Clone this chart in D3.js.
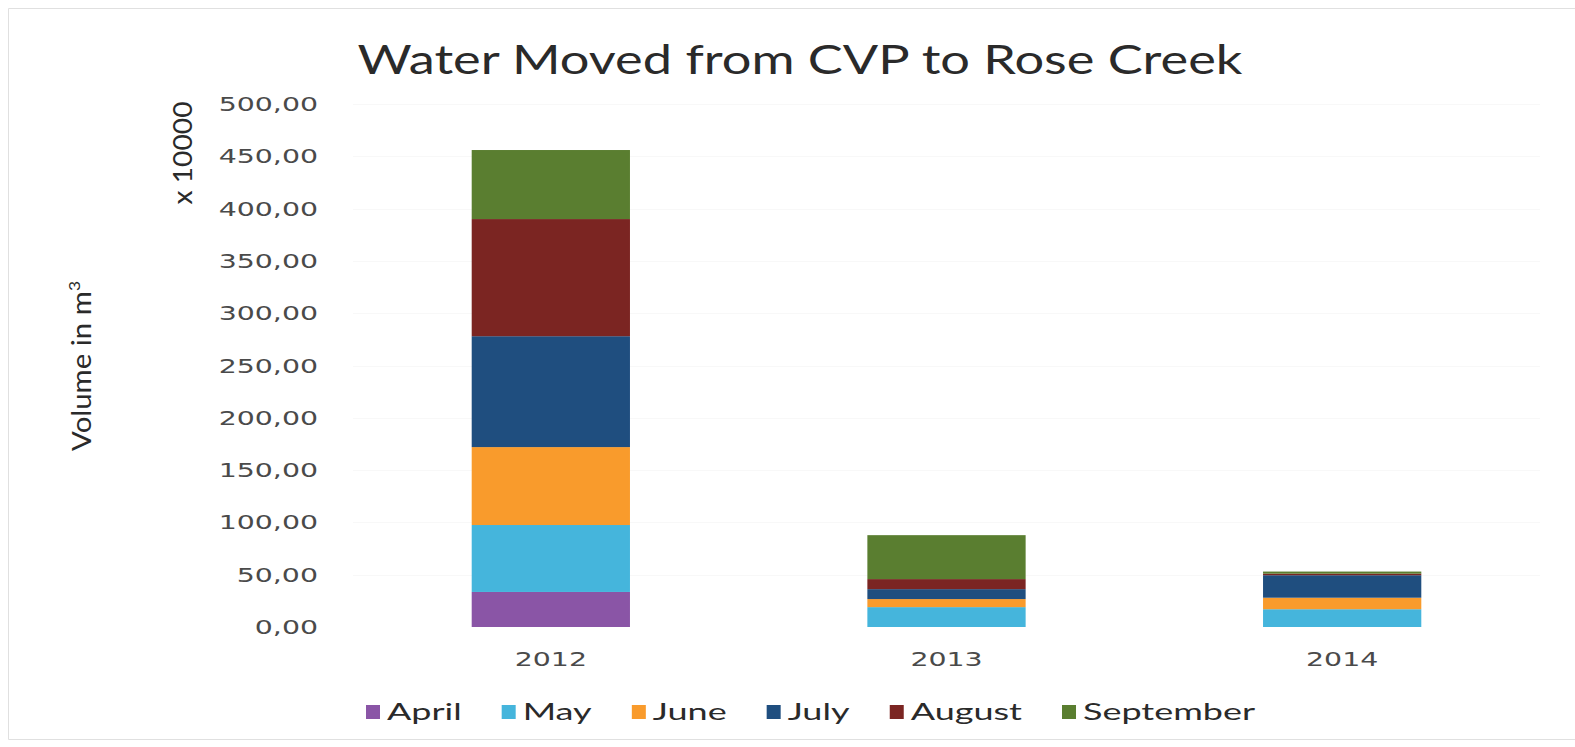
<!DOCTYPE html>
<html>
<head>
<meta charset="utf-8">
<script src="https://cdn.jsdelivr.net/npm/d3@7"></script>
<style>
  body { margin: 0; background: #fff; }
  svg { display: block; }
</style>
</head>
<body>
<div id="chart"></div>
<script>
// values (units of 10000 m3)
const years = ["2012", "2013", "2014"];
const months = ["April", "May", "June", "July", "August", "September"];
const april = [33.5, 0, 0];
const may = [64, 19, 17];
const june = [74.5, 7.7, 11];
const july = [106, 9.5, 21.5];
const august = [112, 9.6, 1.5];
const september = [66, 42, 2];
const yTicks = [0, 50, 100, 150, 200, 250, 300, 350, 400, 450, 500];

const colors = ["#8a55a6", "#45b5dc", "#f99b2c", "#1f4e7f", "#7b2522", "#5a7e30"];

// build rows for the stack
const series = [april, may, june, july, august, september];
const rows = years.map((y, i) => {
  const r = { year: y };
  months.forEach((m, j) => r[m] = series[j][i]);
  return r;
});

const width = 1575;
const height = 747;
const plot = { left: 353, right: 1540, top: 104, bottom: 627 };

const svg = d3.select("#chart")
  .append("svg")
  .attr("width", width)
  .attr("height", height);

svg.append("rect").attr("width", width).attr("height", height).attr("fill", "#fff");

// faint outer frame (top, left, bottom)
svg.append("path")
  .attr("d", "M1575,8.5H8.5V739.5H1575")
  .attr("fill", "none")
  .attr("stroke", "#e0e0e0");

const xScale = d3.scaleBand()
  .domain(years)
  .range([plot.left, plot.right])
  .paddingInner(0.6)
  .paddingOuter(0.3);

const yScale = d3.scaleLinear()
  .domain([0, 500])
  .range([plot.bottom, plot.top]);

// stretched text helper: the reference is wider than normal fonts
function stretchText(g, x, y, txt, opts) {
  const t = g.append("text")
    .attr("text-anchor", opts.anchor || "start")
    .attr("font-family", opts.font)
    .attr("font-size", opts.size)
    .attr("font-weight", opts.weight || 400)
    .attr("fill", opts.fill || "#404040")
    .text(txt);
  let sx = opts.sx || 1;
  if (opts.width) sx = opts.width / t.node().getComputedTextLength();
  const rot = opts.rotate ? ` rotate(${opts.rotate})` : "";
  t.attr("transform", `translate(${x},${y})${rot} scale(${sx},1)`);
  return t;
}

// gridlines (barely visible)
svg.append("g")
  .selectAll("line")
  .data(yTicks.slice(1))
  .join("line")
  .attr("x1", plot.left)
  .attr("x2", plot.right)
  .attr("y1", d => Math.round(yScale(d)) + 0.5)
  .attr("y2", d => Math.round(yScale(d)) + 0.5)
  .attr("stroke", "#f8f8f8");

// y tick labels
const yLab = svg.append("g");
yTicks.forEach(d => {
  stretchText(yLab, 318, yScale(d) + 7, d3.format(".2f")(d).replace(".", ","),
    { anchor: "end", font: "DejaVu Sans", size: 20, sx: 1.42, fill: "#4a4a4a" });
});

// stacked bars
const stack = d3.stack().keys(months)(rows);
svg.append("g")
  .selectAll("g")
  .data(stack)
  .join("g")
  .attr("fill", (d, i) => colors[i])
  .selectAll("rect")
  .data(d => d)
  .join("rect")
  .attr("x", d => xScale(d.data.year))
  .attr("width", xScale.bandwidth())
  .attr("y", d => yScale(d[1]))
  .attr("height", d => yScale(d[0]) - yScale(d[1]));

// x labels
const xLab = svg.append("g");
years.forEach(y => {
  stretchText(xLab, xScale(y) + xScale.bandwidth() / 2, 666, y,
    { anchor: "middle", font: "DejaVu Sans", size: 20, sx: 1.42, fill: "#4a4a4a" });
});

// title
stretchText(svg, 800, 74, "Water Moved from CVP to Rose Creek",
  { anchor: "middle", font: "Lato", size: 40, width: 885, fill: "#2a2a2a" });

// axis title
const yt = stretchText(svg, 91, 366, "Volume in m", { anchor: "middle", font: "Lato", size: 27, rotate: -90, width: 160, fill: "#2a2a2a" });
yt.append("tspan").attr("dy", -11).attr("font-size", 16).text("3");

// unit label
stretchText(svg, 192, 153, "x 10000", { anchor: "middle", font: "Lato", size: 26, rotate: -90, width: 103, fill: "#2a2a2a" });

// legend
const legend = svg.append("g");
let lx = 366;
months.forEach((m, i) => {
  legend.append("rect")
    .attr("x", lx).attr("y", 705)
    .attr("width", 14).attr("height", 14)
    .attr("fill", colors[i]);
  const t = stretchText(legend, lx + 21, 720, m, { font: "Lato", size: 24, sx: 1.5, fill: "#2a2a2a" });
  lx += 21 + t.node().getBoundingClientRect().width + 40;
});
</script>
</body>
</html>
